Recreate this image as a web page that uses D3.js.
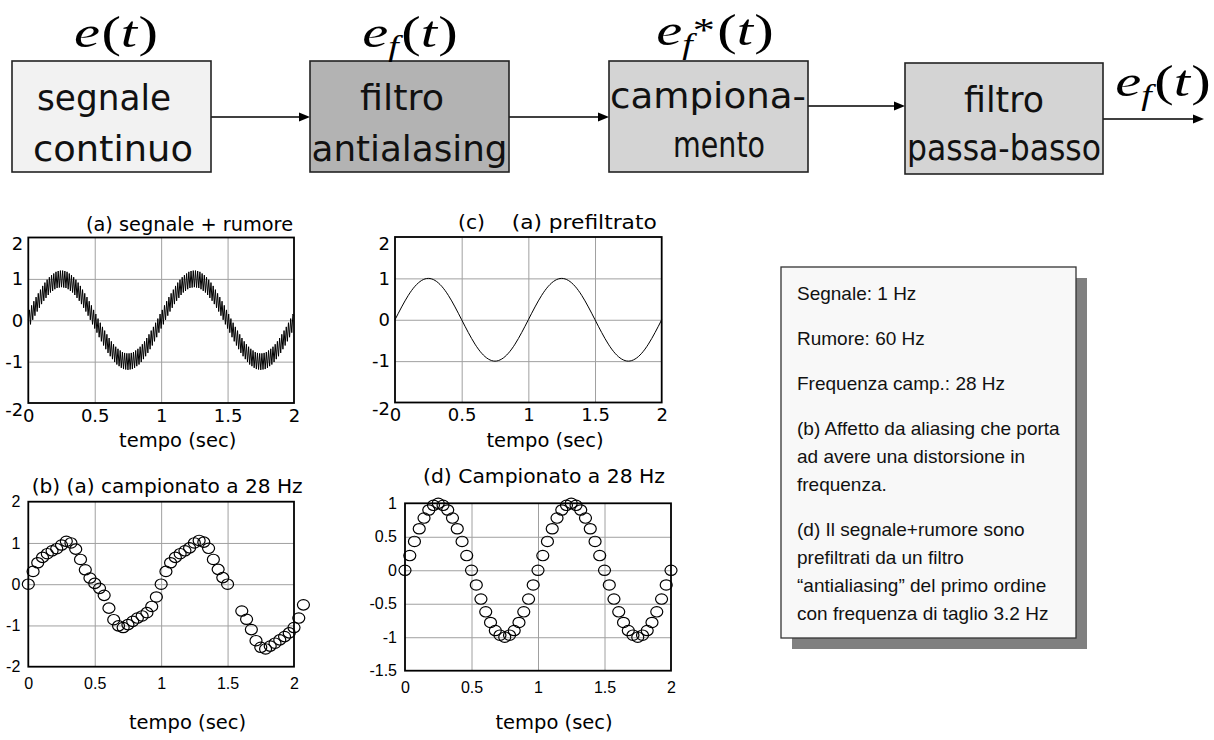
<!DOCTYPE html>
<html>
<head>
<meta charset="utf-8">
<script src="https://cdn.jsdelivr.net/npm/d3@7"></script>
<style>
  body { margin: 0; background: #fff; }
  svg { display: block; }
</style>
</head>
<body>
<div id="chart"></div>
<script>
var WD = 1214, HT = 740

// ---- data ----
var timeTicks = [0, 0.5, 1, 1.5, 2]
var ampTicks = [-2, -1, 0, 1, 2]
var ampTicksD = [-1.5, -1, -0.5, 0, 0.5, 1]

// (a) segnale + rumore, one value every 1/120 s
var noisyValues = [0.00,
  0.25,-0.10,0.36,0.01,0.46,0.11,0.56,0.21,0.65,0.30,
  0.74,0.39,0.83,0.47,0.91,0.54,0.98,0.61,1.04,0.67,
  1.09,0.71,1.13,0.75,1.17,0.78,1.19,0.79,1.20,0.80,
  1.20,0.79,1.19,0.78,1.17,0.75,1.13,0.71,1.09,0.67,
  1.04,0.61,0.98,0.54,0.91,0.47,0.83,0.39,0.74,0.30,
  0.65,0.21,0.56,0.11,0.46,0.01,0.36,-0.10,0.25,-0.20,
  0.15,-0.30,0.04,-0.41,-0.06,-0.51,-0.16,-0.61,-0.25,-0.70,
  -0.34,-0.79,-0.43,-0.87,-0.51,-0.94,-0.58,-1.01,-0.64,-1.07,
  -0.69,-1.11,-0.73,-1.15,-0.77,-1.18,-0.79,-1.19,-0.80,-1.20,
  -0.80,-1.19,-0.79,-1.18,-0.77,-1.15,-0.73,-1.11,-0.69,-1.07,
  -0.64,-1.01,-0.58,-0.94,-0.51,-0.87,-0.43,-0.79,-0.34,-0.70,
  -0.25,-0.61,-0.16,-0.51,-0.06,-0.41,0.04,-0.30,0.15,-0.20,
  0.25,-0.10,0.36,0.01,0.46,0.11,0.56,0.21,0.65,0.30,
  0.74,0.39,0.83,0.47,0.91,0.54,0.98,0.61,1.04,0.67,
  1.09,0.71,1.13,0.75,1.17,0.78,1.19,0.79,1.20,0.80,
  1.20,0.79,1.19,0.78,1.17,0.75,1.13,0.71,1.09,0.67,
  1.04,0.61,0.98,0.54,0.91,0.47,0.83,0.39,0.74,0.30,
  0.65,0.21,0.56,0.11,0.46,0.01,0.36,-0.10,0.25,-0.20,
  0.15,-0.30,0.04,-0.41,-0.06,-0.51,-0.16,-0.61,-0.25,-0.70,
  -0.34,-0.79,-0.43,-0.87,-0.51,-0.94,-0.58,-1.01,-0.64,-1.07,
  -0.69,-1.11,-0.73,-1.15,-0.77,-1.18,-0.79,-1.19,-0.80,-1.20,
  -0.80,-1.19,-0.79,-1.18,-0.77,-1.15,-0.73,-1.11,-0.69,-1.07,
  -0.64,-1.01,-0.58,-0.94,-0.51,-0.87,-0.43,-0.79,-0.34,-0.70,
  -0.25,-0.61,-0.16,-0.51,-0.06,-0.41,0.04,-0.30,0.15,0.10]

// (c) prefiltrato, one value every 0.05 s
var filteredValues = [0,0.31,0.59,0.81,0.95,1,0.95,0.81,0.59,0.31,
  0,-0.31,-0.59,-0.81,-0.95,-1,-0.95,-0.81,-0.59,-0.31,
  0,0.31,0.59,0.81,0.95,1,0.95,0.81,0.59,0.31,
  0,-0.31,-0.59,-0.81,-0.95,-1,-0.95,-0.81,-0.59,-0.31,0]

// (b) campionato a 28 Hz (segnale + rumore)
var sampledTimeB = [0,0.036,0.071,0.107,0.143,0.179,0.214,0.25,0.286,0.321,0.357,0.393,0.429,0.464,
  0.5,0.536,0.571,0.607,0.643,0.679,0.714,0.75,0.786,0.821,0.857,0.893,0.929,0.964,
  1,1.036,1.071,1.107,1.143,1.179,1.214,1.25,1.286,1.321,1.357,1.393,1.429,1.464,1.5,
  1.607,1.643,1.679,1.714,1.75,1.786,1.821,1.857,1.893,1.929,1.964,2,2.036,2.071]
var sampledValueB = [0,0.31,0.52,0.65,0.74,0.81,0.86,0.95,1.04,1.0,0.85,0.6,0.35,0.15,
  0.02,-0.1,-0.27,-0.58,-0.86,-1.01,-1.05,-0.98,-0.9,-0.82,-0.77,-0.69,-0.54,-0.31,
  0,0.31,0.52,0.65,0.74,0.81,0.88,1.0,1.06,1.02,0.87,0.6,0.36,0.16,0,
  -0.65,-0.85,-1.1,-1.37,-1.53,-1.57,-1.5,-1.43,-1.35,-1.27,-1.18,-1.05,-0.82,-0.5]

// (d) campionato a 28 Hz (prefiltrato)
var sampledTimeD = [0,0.036,0.071,0.107,0.143,0.179,0.214,0.25,0.286,0.321,0.357,0.393,0.429,0.464,
  0.5,0.536,0.571,0.607,0.643,0.679,0.714,0.75,0.786,0.821,0.857,0.893,0.929,0.964,
  1,1.036,1.071,1.107,1.143,1.179,1.214,1.25,1.286,1.321,1.357,1.393,1.429,1.464,
  1.5,1.536,1.571,1.607,1.643,1.679,1.714,1.75,1.786,1.821,1.857,1.893,1.929,1.964,2]
var sampledValueD = [0,0.22,0.43,0.62,0.78,0.9,0.97,1,0.97,0.9,0.78,0.62,0.43,0.22,
  0,-0.22,-0.43,-0.62,-0.78,-0.9,-0.97,-1,-0.97,-0.9,-0.78,-0.62,-0.43,-0.22,
  0,0.22,0.43,0.62,0.78,0.9,0.97,1,0.97,0.9,0.78,0.62,0.43,0.22,
  0,-0.22,-0.43,-0.62,-0.78,-0.9,-0.97,-1,-0.97,-0.9,-0.78,-0.62,-0.43,-0.22,0]

var blockLines = [["segnale", "continuo"], ["filtro", "antialasing"], ["campiona-", "mento"], ["filtro", "passa-basso"]]
var notes = [
  ["Segnale: 1 Hz"],
  ["Rumore: 60 Hz"],
  ["Frequenza camp.: 28 Hz"],
  ["(b) Affetto da aliasing che porta", "ad avere una distorsione in", "frequenza."],
  ["(d) Il segnale+rumore sono", "prefiltrati da un filtro", "\u201cantialiasing\u201d del primo ordine", "con frequenza di taglio 3.2 Hz"]
]

// ---- layout ----
var plotFont = "'DejaVu Sans', sans-serif"
var arialFont = "'Liberation Sans', Arial, sans-serif"
var mathFont = "'Liberation Serif', 'Times New Roman', serif"

var svg = d3.select("#chart")
            .append("svg")
                .attr("width", WD)
                .attr("height", HT)

// block diagram
var blocks = [
  { x: 12,  y: 61, w: 199, h: 111, fill: "#f2f2f2", cx: [104, 113],   by: [110, 161], len: [134, 160] },
  { x: 310, y: 61, w: 199, h: 111, fill: "#b3b3b3", cx: [402, 409.5], by: [110, 161], len: [84, 196] },
  { x: 609, y: 61, w: 199, h: 111, fill: "#d4d4d4", cx: [708, 719],   by: [108, 157], len: [196, 92] },
  { x: 905, y: 63, w: 198, h: 111, fill: "#d4d4d4", cx: [1004, 1004], by: [112, 160], len: [80, 194] }
]
var arrows = [[211, 310, 117], [509, 609, 117], [808, 905, 106], [1103, 1204, 119]]

arrows.forEach(function(a) {
  svg.append("line")
      .attr("x1", a[0]).attr("x2", a[1] - 9)
      .attr("y1", a[2]).attr("y2", a[2])
      .attr("stroke", "#000").attr("stroke-width", 1.4)
  svg.append("path")
      .attr("d", "M" + a[1] + "," + a[2] + "L" + (a[1] - 11) + "," + (a[2] - 4.5) + "L" + (a[1] - 11) + "," + (a[2] + 4.5) + "Z")
      .attr("fill", "#000")
})

blocks.forEach(function(b, i) {
  svg.append("rect")
      .attr("x", b.x).attr("y", b.y)
      .attr("width", b.w).attr("height", b.h)
      .attr("fill", b.fill)
      .attr("stroke", "#222").attr("stroke-width", 1.6)
  blockLines[i].forEach(function(line, j) {
    svg.append("text")
        .attr("x", b.cx[j]).attr("y", b.by[j])
        .attr("text-anchor", "middle")
        .attr("font-family", plotFont)
        .attr("font-size", 35)
        .attr("textLength", b.len[j])
        .attr("lengthAdjust", "spacingAndGlyphs")
        .attr("fill", "#111")
        .text(line)
  })
})

// math labels e(t), e_f(t), e_f*(t)
function mathLabel(x, y, sub, star) {
  var t = svg.append("text")
      .attr("transform", "translate(" + x + "," + y + ") scale(1.3,1)")
      .attr("text-anchor", "middle")
      .attr("font-family", mathFont)
      .attr("font-size", 45)
  t.append("tspan").attr("font-style", "italic").text("e")
  if (sub) t.append("tspan").attr("font-style", "italic").attr("font-size", 29).attr("dy", 9).text("f")
  if (star) t.append("tspan").attr("font-size", 34).attr("dx", 0).attr("dy", -13).text("*")
  t.append("tspan").attr("dy", sub ? (star ? 4 : -9) : 0).attr("dx", sub ? 2 : 1).text("(")
  t.append("tspan").attr("font-style", "italic").text("t")
  t.append("tspan").attr("dx", 1).text(")")
}
mathLabel(116, 47, false, false)
mathLabel(410, 47, true, false)
mathLabel(715, 45, true, true)
mathLabel(1163, 96, true, false)

// ---- plots ----
function drawPanel(p) {
  var x = d3.scaleLinear().domain([0, 2]).range([p.left, p.right])
  var y = d3.scaleLinear().domain([p.yTicks[0], p.yTicks[p.yTicks.length - 1]]).range([p.bottom, p.top])
  var w = p.right - p.left, h = p.bottom - p.top
  var g = svg.append("g")

  // grid
  g.append("g")
      .attr("transform", "translate(0," + p.bottom + ")")
      .call(d3.axisBottom(x).tickValues(timeTicks.slice(1, -1)).tickSize(-h).tickFormat(""))
      .call(function(s) { s.select(".domain").remove() })
      .selectAll("line").attr("stroke", "#a0a0a0").attr("stroke-width", 1)
  g.append("g")
      .attr("transform", "translate(" + p.left + ",0)")
      .call(d3.axisLeft(y).tickValues(p.yTicks.slice(1, -1)).tickSize(-w).tickFormat(""))
      .call(function(s) { s.select(".domain").remove() })
      .selectAll("line").attr("stroke", "#a0a0a0").attr("stroke-width", 1)

  p.marks(g, x, y)

  g.append("rect")
      .attr("x", p.left).attr("y", p.top)
      .attr("width", w).attr("height", h)
      .attr("fill", "none")
      .attr("stroke", "#000").attr("stroke-width", 1.8)

  // tick labels
  var fmt = function(d) { return String(d) }
  var xa = g.append("g")
      .attr("transform", "translate(0," + p.bottom + ")")
      .call(d3.axisBottom(x).tickValues(timeTicks).tickFormat(fmt).tickSize(0).tickPadding(p.xPad))
  xa.select(".domain").remove()
  xa.attr("font-family", p.tickFont).attr("font-size", p.tickSize)
  xa.selectAll("text").attr("fill", "#000")

  var ya = g.append("g")
      .attr("transform", "translate(" + p.left + ",0)")
      .call(d3.axisLeft(y).tickValues(p.yTicks).tickFormat(fmt).tickSize(0).tickPadding(p.yPad))
  ya.select(".domain").remove()
  ya.attr("font-family", p.tickFont).attr("font-size", p.tickSize)
  ya.selectAll("text").attr("fill", "#000")
      .attr("dy", function(d, i) { return p.endShift && (i === 0 || i === p.yTicks.length - 1) ? "0.68em" : "0.32em" })

  p.titles.forEach(function(t) {
    g.append("text")
        .attr("x", t.x).attr("y", p.titleY)
        .attr("font-family", plotFont).attr("font-size", 20)
        .attr("textLength", t.len)
        .attr("lengthAdjust", "spacingAndGlyphs")
        .text(t.text)
  })
  g.append("text")
      .attr("x", p.xlabelX).attr("y", p.xlabelY)
      .attr("text-anchor", "middle")
      .attr("font-family", plotFont).attr("font-size", 19.5)
      .text("tempo (sec)")
}

function markers(g, x, y, times, values) {
  g.selectAll(null)
    .data(values)
    .enter()
    .append("ellipse")
        .attr("cx", function(d, i) { return x(times[i]) })
        .attr("cy", function(d) { return y(d) })
        .attr("rx", 6).attr("ry", 5.2)
        .attr("fill", "none")
        .attr("stroke", "#000").attr("stroke-width", 1.2)
}

drawPanel({
  left: 28.3, right: 294, top: 237.5, bottom: 403, yTicks: ampTicks,
  tickFont: plotFont, tickSize: 18, xPad: 6, yPad: 5, endShift: true,
  titles: [{ x: 86, text: "(a) segnale + rumore", len: 207 }], titleY: 230.5,
  xlabelX: 177.7, xlabelY: 447,
  marks: function(g, x, y) {
    var line = d3.line()
        .x(function(d, i) { return x(i / 120) })
        .y(function(d) { return y(d) })
    g.append("path")
        .datum(noisyValues)
        .attr("d", line)
        .attr("fill", "none")
        .attr("stroke", "#000").attr("stroke-width", 1)
  }
})

drawPanel({
  left: 395, right: 661.7, top: 237, bottom: 402.5, yTicks: ampTicks,
  tickFont: plotFont, tickSize: 18, xPad: 6, yPad: 5, endShift: true,
  titles: [{ x: 458, text: "(c)", len: 27 }, { x: 511.7, text: "(a) prefiltrato", len: 145 }], titleY: 229,
  xlabelX: 545, xlabelY: 447,
  marks: function(g, x, y) {
    var line = d3.line()
        .curve(d3.curveNatural)
        .x(function(d, i) { return x(i * 0.05) })
        .y(function(d) { return y(d) })
    g.append("path")
        .datum(filteredValues)
        .attr("d", line)
        .attr("fill", "none")
        .attr("stroke", "#000").attr("stroke-width", 1)
  }
})

drawPanel({
  left: 28.3, right: 294, top: 501.7, bottom: 666.7, yTicks: ampTicks,
  tickFont: arialFont, tickSize: 16, xPad: 11, yPad: 8, endShift: false,
  titles: [{ x: 31.7, text: "(b) (a) campionato a 28 Hz", len: 271 }], titleY: 492.5,
  xlabelX: 187.5, xlabelY: 729,
  marks: function(g, x, y) { markers(g, x, y, sampledTimeB, sampledValueB) }
})

drawPanel({
  left: 405, right: 671, top: 503.3, bottom: 670.7, yTicks: ampTicksD,
  tickFont: arialFont, tickSize: 16, xPad: 10.5, yPad: 8, endShift: false,
  titles: [{ x: 423, text: "(d) Campionato a 28 Hz", len: 242 }], titleY: 483,
  xlabelX: 554, xlabelY: 729,
  marks: function(g, x, y) { markers(g, x, y, sampledTimeD, sampledValueD) }
})

// ---- note box ----
var box = { x: 781, y: 267, w: 295, h: 371, shadow: 11 }
svg.append("rect")
    .attr("x", box.x + box.shadow).attr("y", box.y + box.shadow)
    .attr("width", box.w).attr("height", box.h)
    .attr("fill", "#808080")
svg.append("rect")
    .attr("x", box.x).attr("y", box.y)
    .attr("width", box.w).attr("height", box.h)
    .attr("fill", "#f8f8f8")
    .attr("stroke", "#333").attr("stroke-width", 1.3)

var cursor = 300
notes.forEach(function(par) {
  par.forEach(function(line, j) {
    svg.append("text")
        .attr("x", 797).attr("y", cursor + j * 28)
        .attr("font-family", arialFont)
        .attr("font-size", 19)
        .attr("fill", "#111")
        .text(line)
  })
  cursor += (par.length - 1) * 28 + 45
})
</script>
</body>
</html>
